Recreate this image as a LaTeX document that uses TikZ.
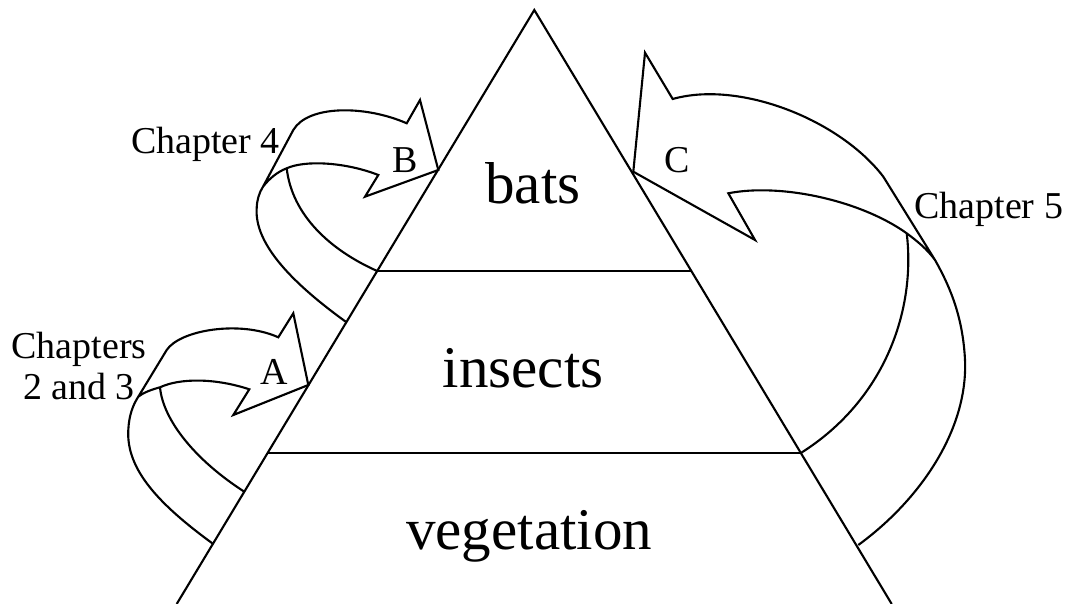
\documentclass[tikz,border=0pt]{standalone}
\usepackage{fontspec}
\setmainfont{Liberation Serif}
\usetikzlibrary{positioning}
\tikzset{
  level text/.style={font=\fontsize{16.8}{20}\selectfont, inner sep=0pt},
  tag text/.style={font=\fontsize{10.8}{11.9}\selectfont, inner sep=0pt},
}

\begin{document}
\begin{tikzpicture}[x=0.01cm, y=-0.01cm, line width=0.6pt]
  \useasboundingbox (0,0) rectangle (1067,604);
  % pyramid
  \coordinate (apex) at (534.3,10);
  \coordinate (bl) at (176.7,604);
  \coordinate (br) at (891.7,604);
  \draw (bl) -- (apex) -- (br);
  \path (apex) -- (bl) coordinate[pos=0.4394] (l1) coordinate[pos=0.7458] (l2);
  \path (apex) -- (br) coordinate[pos=0.4394] (r1) coordinate[pos=0.7458] (r2);
  \draw (l1) -- (r1);
  \draw (l2) -- (r2);
  \node[level text, anchor=base] (bats) at (533,204) {bats};
  \node[level text, anchor=base] (insects) at (523,388) {insects};
  \node[level text, anchor=base] (vegetation) at (529.2,549.3) {vegetation};

  % arrow A
  \draw (212.3,543.3) .. controls (160,505) and (126,470) .. (128.3,430)
    .. controls (129,415) and (133,405) .. (138.3,396.7) -- (166.7,350)
    .. controls (180,330) and (240,320) .. (278.3,337.3)
    -- (293.3,313.3) -- (308.3,385) -- (233.3,415) -- (249.3,389.3)
    .. controls (215,378) and (180,378) .. (160,387.3)
    .. controls (150,390) and (143,393) .. (138.3,396.7);
  \draw (160,387.3) .. controls (163,420) and (195,460) .. (244.3,491.7);
  % arrow B
  \draw (345.7,321.7) .. controls (295,285) and (254,245) .. (256.7,208)
    .. controls (257,200) and (259,193) .. (263,186.7) -- (293.3,130)
    .. controls (308,105) and (365,105) .. (406.7,123.3)
    -- (420,100) -- (438.3,170) -- (365,196.7) -- (378.3,175)
    .. controls (345,162) and (305,160) .. (286.7,168.3)
    .. controls (277,172) and (269,179) .. (263,186.7);
  \draw (286.7,168.3) .. controls (292,215) and (330,250) .. (l1);
  % arrow C
  \draw (858.3,545) .. controls (920,500) and (968,430) .. (965,360)
    .. controls (963,320) and (952,290) .. (935,260) -- (883.3,176.7)
    .. controls (840,120) and (740,80) .. (672.7,99)
    -- (645,52.7) -- (633.3,171.7) -- (755,240) -- (728.3,193.3)
    .. controls (780,183) and (860,200) .. (906.7,233.3)
    .. controls (917,241) and (927,249) .. (935,260);
  \draw (906.7,233.3) .. controls (916,310) and (885,400) .. (r2);

  \node[tag text, anchor=base] (tagA) at (274,385) {A};
  \node[tag text, anchor=base] (tagB) at (404.7,172.7) {B};
  \node[tag text, anchor=base] (tagC) at (677,172.7) {C};
  \node[tag text, anchor=base west] (ch4) at (130,154) {Chapter 4};
  \node[tag text, anchor=base west] (ch5) at (913.3,218.3) {Chapter 5};
  \node[tag text, align=center, anchor=base] (ch23) at (79,400) {Chapters\\2 and 3};
\end{tikzpicture}
\end{document}
